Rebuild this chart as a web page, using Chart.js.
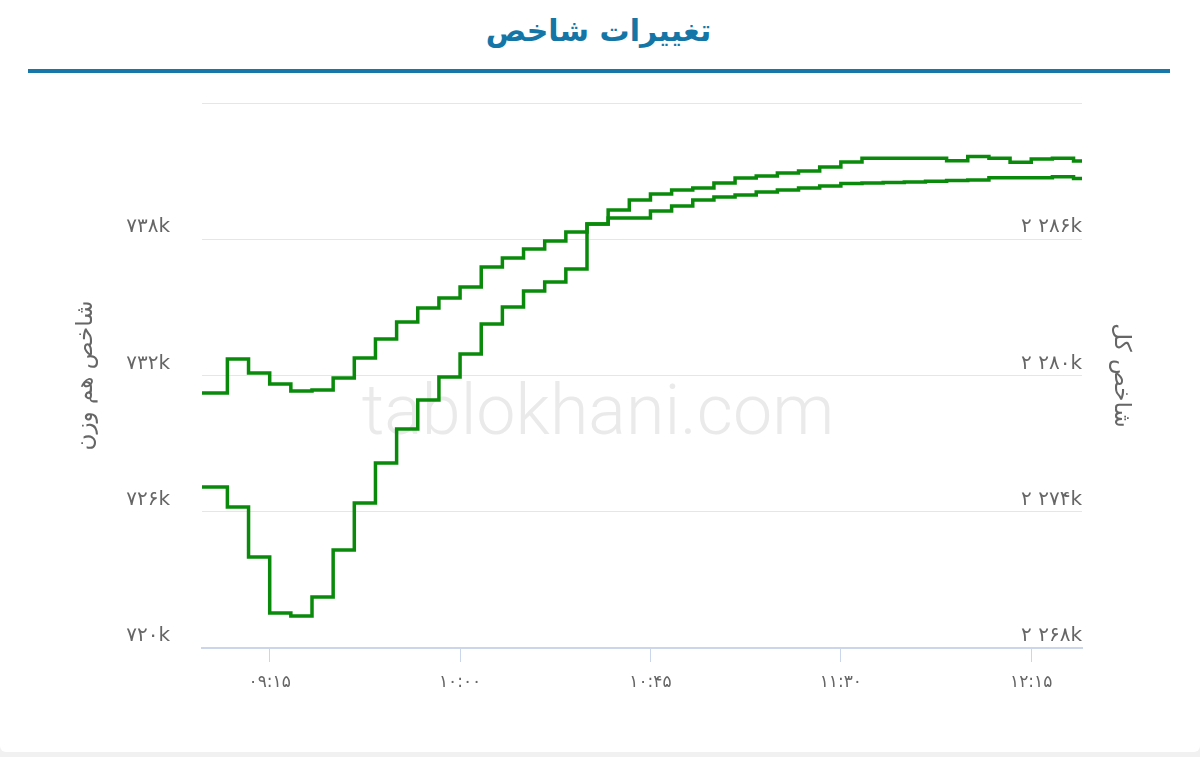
<!DOCTYPE html>
<html lang="fa">
<head>
<meta charset="utf-8">
<script src="https://cdn.jsdelivr.net/npm/chart.js@4.4.0/dist/chart.umd.min.js"></script>
<style>
html,body{margin:0;padding:0;width:1200px;height:757px;overflow:hidden;background:#f1f1f1;}
#card{position:absolute;left:0;top:0;width:1200px;height:752px;background:#fff;border-radius:0 0 6px 6px;}
#title{position:absolute;left:0;top:13px;width:1197px;text-align:center;font:bold 30px "DejaVu Sans",sans-serif;color:#1476a6;direction:rtl;}
#rule{position:absolute;left:28px;top:69px;width:1142px;height:4px;background:#1677a8;}
#wm{position:absolute;left:0;width:1196px;top:369px;text-align:center;font:300 70px Roboto,sans-serif;color:#eaeaea;white-space:nowrap;}
#c{position:absolute;left:0;top:0;}
</style>
</head>
<body>
<div id="card"></div>
<div id="title">تغییرات شاخص</div>
<div id="rule"></div>
<div id="wm">tablokhani.com</div>
<canvas id="c" width="1200" height="757"></canvas>
<script>
// ---- data ----
const times = ['08:59','09:05','09:10','09:15','09:20','09:25','09:30','09:35','09:40','09:45',
  '09:50','09:55','10:00','10:05','10:10','10:15','10:20','10:25','10:30','10:35',
  '10:40','10:45','10:50','10:55','11:00','11:05','11:10','11:15','11:20','11:25',
  '11:30','11:35','11:40','11:45','11:50','11:55','12:00','12:05','12:10','12:15',
  '12:20','12:25','12:27'];
// شاخص هم وزن (left axis)
const hamVazn = [731230,732730,732110,731630,731320,731360,731890,732770,733610,734360,
  734970,735410,735900,736780,737170,737570,737920,738320,738670,738940,
  738940,739240,739460,739730,739860,739950,740080,740170,740260,740350,
  740460,740480,740500,740520,740550,740590,740610,740710,740710,740710,
  740750,740680,740680];
// شاخص کل (right axis)
const kol = [2275090,2274210,2272010,2269540,2269410,2270250,2272320,2274390,2276150,2277640,
  2278920,2279930,2280950,2282270,2283020,2283720,2284120,2284690,2286670,2287290,
  2287730,2287990,2288170,2288260,2288480,2288700,2288790,2288920,2289010,2289180,
  2289400,2289570,2289570,2289570,2289570,2289460,2289640,2289570,2289390,2289530,
  2289570,2289450,2289450];
const xTickLabels = ['09:15','10:00','10:45','11:30','12:15'];
const leftTicks = [720000,726000,732000,738000];
const rightTicks = [2268000,2274000,2280000,2286000];

// ---- helpers ----
const fa = s => String(s).replace(/[0-9]/g, d => '۰۱۲۳۴۵۶۷۸۹'[+d]);
const toMin = t => { const p = t.split(':').map(Number); return p[0]*60 + p[1]; };
const fmtTime = m => fa(String(Math.floor(m/60)).padStart(2,'0') + ':' + String(Math.round(m%60)).padStart(2,'0'));
const fmtK = v => {
  const k = String(Math.round(v/1000));
  return fa(k.replace(/\B(?=(\d{3})+(?!\d))/g, ' ')) + 'k';
};

Chart.defaults.font.family = '"DejaVu Sans", sans-serif';
const GREEN = '#0a8a0a';
const TXT = '#666666';

new Chart(document.getElementById('c'), {
  type: 'line',
  data: {
    datasets: [
      {
        label: 'شاخص هم وزن',
        data: times.map((t,i) => ({x: toMin(t), y: hamVazn[i]})),
        yAxisID: 'yL',
        borderColor: GREEN, borderWidth: 3.5, pointRadius: 0, stepped: true, fill: false
      },
      {
        label: 'شاخص کل',
        data: times.map((t,i) => ({x: toMin(t), y: kol[i]})),
        yAxisID: 'yR',
        borderColor: GREEN, borderWidth: 3.5, pointRadius: 0, stepped: true, fill: false
      }
    ]
  },
  options: {
    responsive: false,
    animation: false,
    layout: {padding: {top: 103, left: 0, right: 0, bottom: 0}},
    plugins: {legend: {display: false}, tooltip: {enabled: false}},
    scales: {
      x: {
        type: 'linear', position: 'bottom',
        min: toMin('08:59'), max: toMin('12:27'),
        afterBuildTicks: s => { s.ticks = xTickLabels.map(t => ({value: toMin(t)})); },
        ticks: {callback: v => fmtTime(v), font: {size: 17}, color: TXT, padding: 10, maxRotation: 0, autoSkip: false},
        grid: {drawOnChartArea: false, drawTicks: true, tickLength: 14, color: '#ccd6eb', lineWidth: 1},
        border: {display: true, color: '#ccd6eb', width: 2},
        afterFit: s => { s.height = 109; }
      },
      yL: {
        type: 'linear', position: 'left',
        min: 720000, max: 744000,
        afterBuildTicks: s => { s.ticks = leftTicks.concat([744000]).map(v => ({value: v})); },
        ticks: {callback: v => leftTicks.includes(v) ? fmtK(v) : '', font: {size: 20}, color: TXT, padding: 32, labelOffset: -12},
        grid: {color: '#e6e6e6', lineWidth: 1, drawTicks: false},
        border: {display: false},
        title: {display: true, text: 'شاخص هم وزن', font: {size: 23}, color: TXT, padding: {top: 72, bottom: 0}},
        afterFit: s => { s.width = 202; }
      },
      yR: {
        type: 'linear', position: 'right',
        min: 2268000, max: 2292000,
        afterBuildTicks: s => { s.ticks = rightTicks.concat([2292000]).map(v => ({value: v})); },
        ticks: {callback: v => rightTicks.includes(v) ? fmtK(v) : '', font: {size: 20}, color: TXT, mirror: true, padding: 0, labelOffset: -12},
        grid: {drawOnChartArea: false, drawTicks: false},
        border: {display: false},
        title: {display: true, text: 'شاخص کل', font: {size: 23}, color: TXT, padding: {top: 65, bottom: 0}},
        afterFit: s => { s.width = 118; }
      }
    }
  }
});
</script>
</body>
</html>
